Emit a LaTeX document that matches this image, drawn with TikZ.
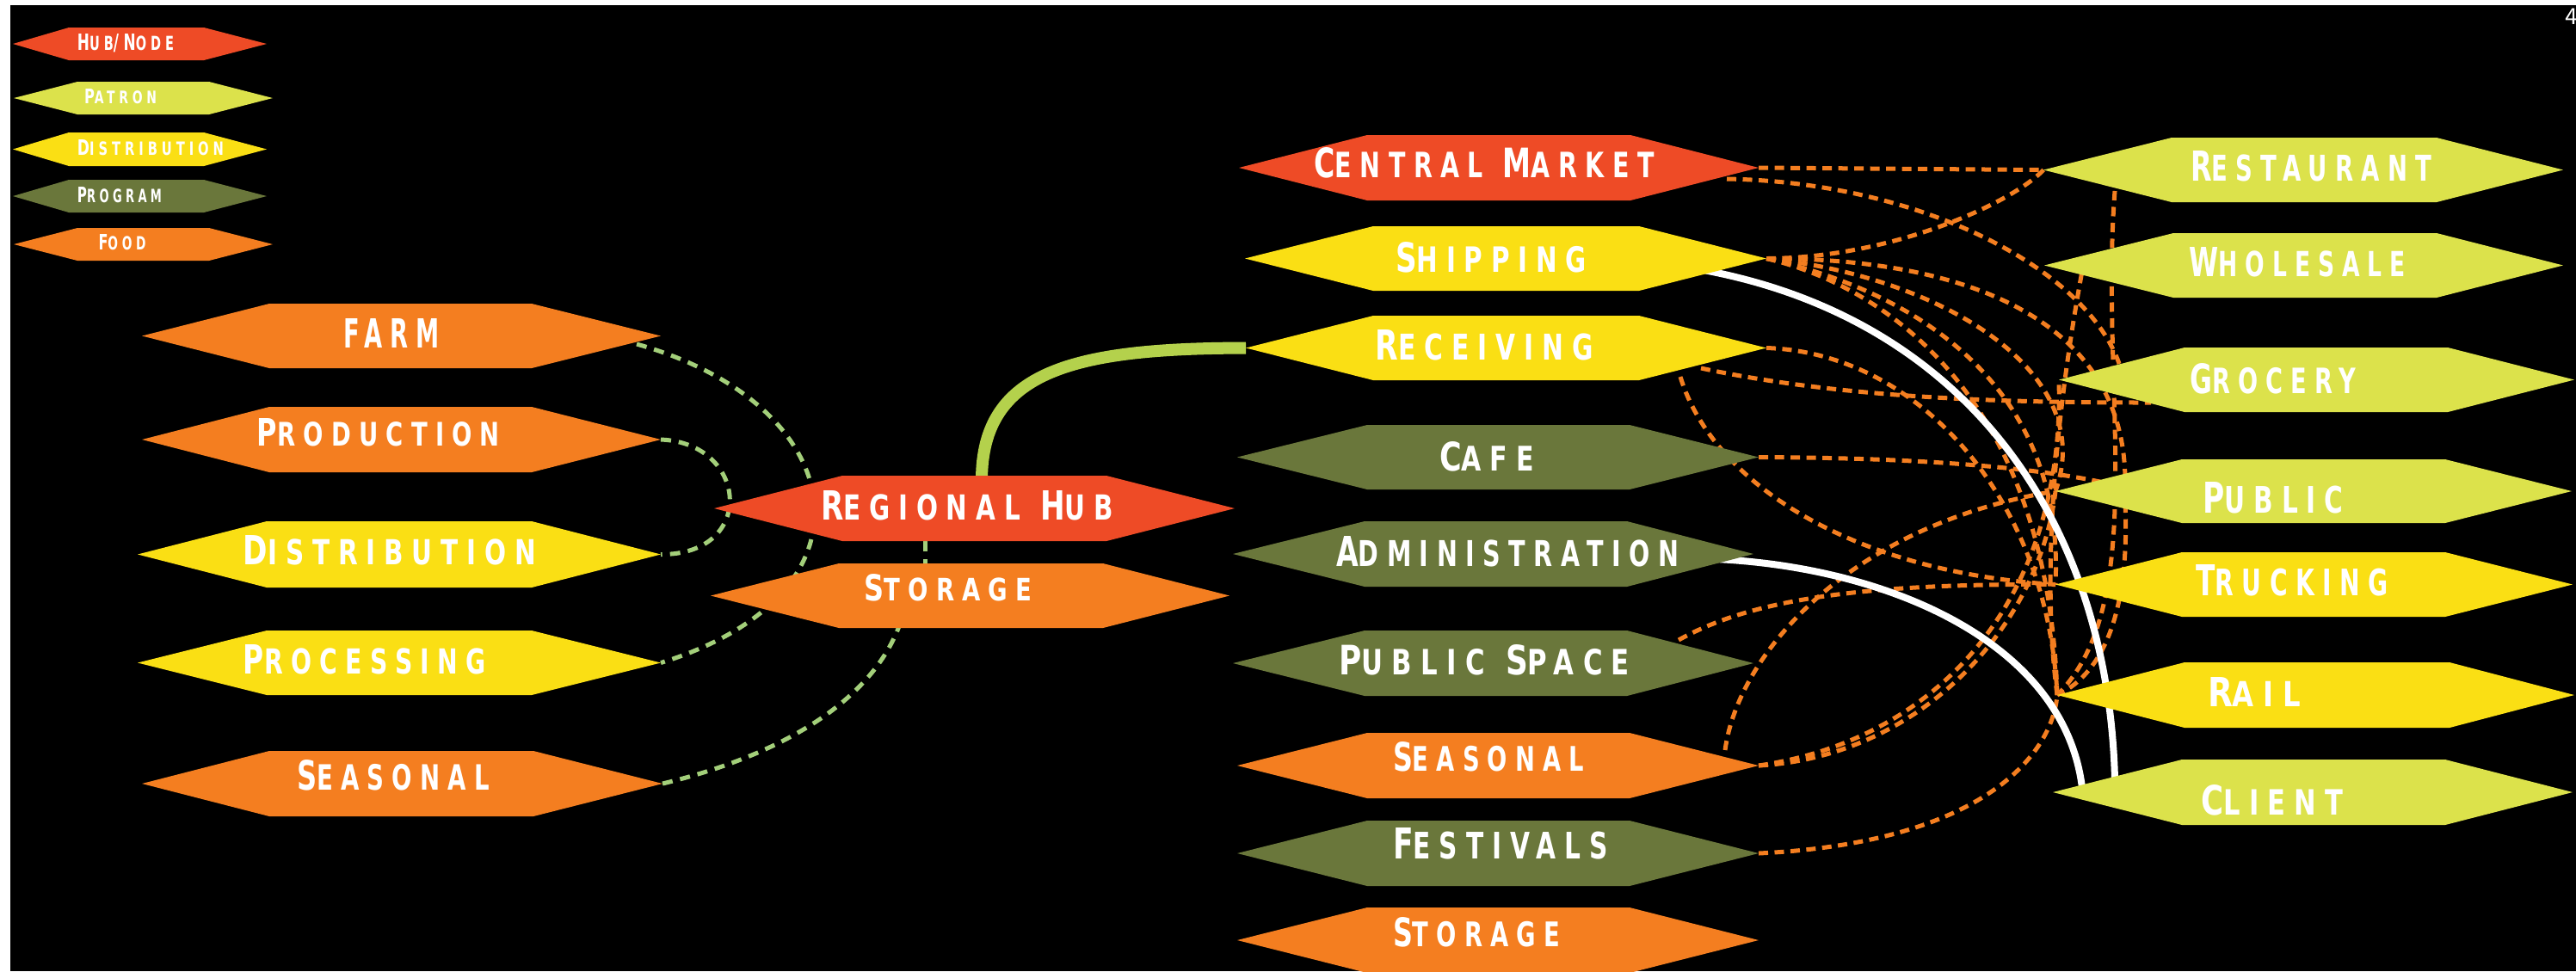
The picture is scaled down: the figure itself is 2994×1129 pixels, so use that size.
\documentclass[tikz,border=0pt]{standalone}
\usepackage{fontspec}
\usepackage{graphicx}
\newfontfamily\labelfont{DejaVu Sans}[FakeStretch=0.72,LetterSpace=24]
\pgfdeclarelayer{bg}
\pgfsetlayers{bg,main}
\definecolor{hubc}{HTML}{EE4B26}
\definecolor{patc}{HTML}{DCE24B}
\definecolor{disc}{HTML}{FADF14}
\definecolor{proc}{HTML}{6A773B}
\definecolor{fooc}{HTML}{F47E20}
\definecolor{dorange}{HTML}{F47E20}
\definecolor{dgreen}{HTML}{A3CF7A}
\definecolor{arcgreen}{HTML}{B4D14C}
\newlength\pxu \setlength\pxu{0.01cm}
\newcommand\smc[1]{{\fontsize{8.6}{8.6}\selectfont #1}}
\newcommand\hexa[8]{%
  \fill[#8] (#2,{(#6+#7)/2}) -- (#3,#6) -- (#4,#6) -- (#5,{(#6+#7)/2}) -- (#4,#7) -- (#3,#7) -- cycle;
  \coordinate (#1-w) at (#2,{(#6+#7)/2});
  \coordinate (#1-e) at (#5,{(#6+#7)/2});
}
\newcommand\lbl[6]{\node[lbltxt] (#1) at (#2,#3) {\resizebox{#4\pxu}{#5\pxu}{\labelfont\bfseries\fontsize{10}{10}\selectfont #6}};}
\tikzset{
  odash/.style={draw=dorange, line width=0.05cm, dash pattern=on 0.11cm off 0.075cm},
  gdash/.style={draw=dgreen, line width=0.05cm, dash pattern=on 0.12cm off 0.09cm},
  warc/.style={draw=white, line width=0.08cm},
  garc/.style={draw=arcgreen, line width=0.14cm},
  lbltxt/.style={inner sep=0pt, outer sep=0pt, text=white},
}
\begin{document}
\begin{tikzpicture}[x=0.01cm, y=-0.01cm]
\useasboundingbox (0,0) rectangle (2994,1129);
% legend
\hexa{lhub}{15}{80}{237}{310}{32}{70}{hubc}
\hexa{lpat}{16}{90}{243}{317}{95}{133}{patc}
\hexa{ldis}{15}{80}{237}{310}{154}{193}{disc}
\hexa{lpro}{15}{80}{237}{310}{209}{247}{proc}
\hexa{lfoo}{16}{90}{243}{317}{265}{303}{fooc}
\lbl{t-lhub}{146}{50}{112}{19}{H\smc{UB}/N\smc{ODE}}
\lbl{t-lpat}{140}{112}{84}{17}{P\smc{ATRON}}
\lbl{t-ldis}{175}{172}{170}{18}{D\smc{ISTRIBUTION}}
\lbl{t-lpro}{139}{227}{98}{18}{P\smc{ROGRAM}}
\lbl{t-lfoo}{142}{282}{55}{18}{F\smc{OOD}}
% left column
\hexa{farm}{165}{313}{618}{768}{353}{428}{fooc}
\hexa{prod}{165}{313}{618}{768}{473}{549}{fooc}
\hexa{dist}{160}{310}{618}{768}{606}{683}{disc}
\hexa{procn}{160}{310}{618}{768}{733}{808}{disc}
\hexa{seasl}{165}{313}{620}{770}{873}{949}{fooc}
\hexa{hub}{830}{979}{1286}{1435}{553}{629}{hubc}
\hexa{storl}{826}{975}{1282}{1429}{655}{730}{fooc}
\lbl{t-farm}{455}{387}{112}{34}{FARM}
\lbl{t-prod}{440}{503}{282}{32}{P\smc{RODUCTION}}
\lbl{t-dist}{453}{640}{340}{34}{D\smc{ISTRIBUTION}}
\lbl{t-proc}{424}{767}{282}{34}{P\smc{ROCESSING}}
\lbl{t-seasl}{457}{901}{224}{35}{S\smc{EASONAL}}
\lbl{t-hub}{1124}{588}{340}{34}{R\smc{EGIONAL} H\smc{UB}}
\lbl{t-storl}{1102}{683}{195}{31}{S\smc{TORAGE}}
% middle column
\hexa{cm}{1440}{1589}{1895}{2044}{157}{233}{hubc}
\hexa{ship}{1447}{1596}{1905}{2053}{263}{338}{disc}
\hexa{recv}{1448}{1596}{1905}{2053}{367}{442}{disc}
\hexa{cafe}{1438}{1589}{1894}{2044}{494}{569}{proc}
\hexa{admin}{1433}{1586}{1891}{2038}{606}{682}{proc}
\hexa{ps}{1433}{1586}{1891}{2038}{733}{809}{proc}
\hexa{seasr}{1438}{1589}{1894}{2044}{852}{928}{fooc}
\hexa{fest}{1438}{1589}{1894}{2044}{954}{1030}{proc}
\hexa{storr}{1438}{1589}{1894}{2044}{1055}{1131}{fooc}
\lbl{t-cm}{1725}{189}{395}{35}{C\smc{ENTRAL} M\smc{ARKET}}
\lbl{t-ship}{1733}{299}{222}{35}{S\smc{HIPPING}}
\lbl{t-recv}{1725}{401}{253}{35}{R\smc{ECEIVING}}
\lbl{t-cafe}{1728}{531}{110}{34}{C\smc{AFE}}
\lbl{t-admin}{1752}{641}{398}{35}{A\smc{DMINISTRATION}}
\lbl{t-ps}{1725}{767}{338}{35}{P\smc{UBLIC} S\smc{PACE}}
\lbl{t-seasr}{1730}{880}{222}{34}{S\smc{EASONAL}}
\lbl{t-fest}{1744}{981}{250}{36}{F\smc{ESTIVALS}}
\lbl{t-storr}{1716}{1084}{194}{34}{S\smc{TORAGE}}
% right column
\hexa{rest}{2375}{2524}{2832}{2979}{160}{235}{patc}
\hexa{whol}{2376}{2526}{2832}{2979}{271}{346}{patc}
\hexa{groc}{2393}{2539}{2845}{2992}{404}{479}{patc}
\hexa{pub}{2389}{2536}{2842}{2989}{534}{608}{patc}
\hexa{truck}{2389}{2536}{2842}{2990}{642}{717}{disc}
\hexa{rail}{2391}{2539}{2847}{2992}{770}{846}{disc}
\hexa{client}{2386}{2536}{2842}{2990}{883}{959}{patc}
\lbl{t-rest}{2686}{193}{280}{35}{R\smc{ESTAURANT}}
\lbl{t-whol}{2670}{305}{251}{34}{W\smc{HOLESALE}}
\lbl{t-groc}{2642}{440}{193}{35}{G\smc{ROCERY}}
\lbl{t-pub}{2642}{579}{163}{36}{P\smc{UBLIC}}
\lbl{t-truck}{2664}{675}{223}{36}{T\smc{RUCKING}}
\lbl{t-rail}{2620}{804}{108}{34}{R\smc{AIL}}
\lbl{t-client}{2641}{930}{165}{35}{C\smc{LIENT}}
\node[lbltxt, anchor=west] (pagenum) at (2981,19) {\fontsize{8}{8}\selectfont\sffamily 4};
% connector end points
\coordinate (farm-s) at (740,400);
\coordinate (storl-b) at (1045,728);
\coordinate (hub-b) at (1075,629);
\coordinate (storl-t) at (1075,655);
\coordinate (hub-t) at (1141,558);
\coordinate (cm-b) at (2007,208);
\coordinate (groc-h) at (2470,455);
\coordinate (ship-s) at (1980,314);
\coordinate (pub-h1) at (2470,560);
\coordinate (pub-h2) at (2470,585);
\coordinate (recv-b1) at (1977,428);
\coordinate (recv-b2) at (1953,438);
\coordinate (groc-h2) at (2500,468);
\coordinate (pub-h3) at (2450,562);
\coordinate (ps-t) at (1951,744);
\coordinate (seas-t) at (2005,872);
\coordinate (whol-h) at (2420,315);
\coordinate (rest-h) at (2458,222);
\coordinate (admin-s) at (1995,650);
\coordinate (client-h1) at (2458,906);
\coordinate (client-h2) at (2420,916);
\begin{pgfonlayer}{bg}
\fill[white] (0,0) rectangle (2994,1129);
\fill[black] (12,6) rectangle (2994,1129);
% left green dashed
\draw[gdash] (farm-s) .. controls (990,470) and (1030,690) .. (procn-e);
\draw[gdash] (prod-e) .. controls (870,515) and (880,645) .. (dist-e);
\draw[gdash] (seasl-e) .. controls (900,880) and (1010,820) .. (storl-b);
\draw[gdash] (hub-b) -- (storl-t);
% orange dashed web
\draw[odash] (cm-e) -- (rest-w);
\draw[odash] (cm-b) .. controls (2250,212) and (2460,330) .. (groc-h);
\draw[odash] (ship-e) .. controls (2200,300) and (2340,235) .. (rest-w);
\draw[odash] (ship-e) .. controls (2300,300) and (2470,380) .. (pub-h1);
\draw[odash] (pub-h2) .. controls (2475,700) and (2450,780) .. (rail-w);
\draw[odash] (ship-e) .. controls (2250,320) and (2440,430) .. (pub-w);
\draw[odash] (ship-e) .. controls (2230,340) and (2400,450) .. (truck-w);
\draw[odash] (ship-e) .. controls (2180,330) and (2380,450) .. (rail-w);
\draw[odash] (recv-e) .. controls (2230,410) and (2380,580) .. (rail-w);
\draw[odash] (recv-b1) .. controls (2150,465) and (2350,468) .. (groc-h2);
\draw[odash] (recv-b2) .. controls (1990,560) and (2150,665) .. (truck-w);
\draw[odash] (cafe-e) .. controls (2200,532) and (2350,540) .. (pub-h3);
\draw[odash] (ps-t) .. controls (2030,700) and (2150,678) .. (truck-w);
\draw[odash] (seas-t) .. controls (2020,760) and (2150,610) .. (pub-w);
\draw[odash] (seasr-e) .. controls (2250,860) and (2400,700) .. (groc-w);
\draw[odash] (seasr-e) .. controls (2230,880) and (2370,730) .. (pub-w);
\draw[odash] (fest-e) .. controls (2300,980) and (2385,880) .. (rail-w);
\draw[odash] (rail-w) .. controls (2370,650) and (2395,450) .. (whol-h);
\draw[odash] (rest-h) .. controls (2440,450) and (2500,700) .. (rail-w);
% white arcs
\draw[warc] (ship-s) .. controls (2280,370) and (2450,600) .. (client-h1);
\draw[warc] (admin-s) .. controls (2200,660) and (2400,750) .. (client-h2);
% green arc
\draw[garc] (hub-t) .. controls (1141,430) and (1250,405) .. (recv-w);
\end{pgfonlayer}
\end{tikzpicture}
\end{document}
